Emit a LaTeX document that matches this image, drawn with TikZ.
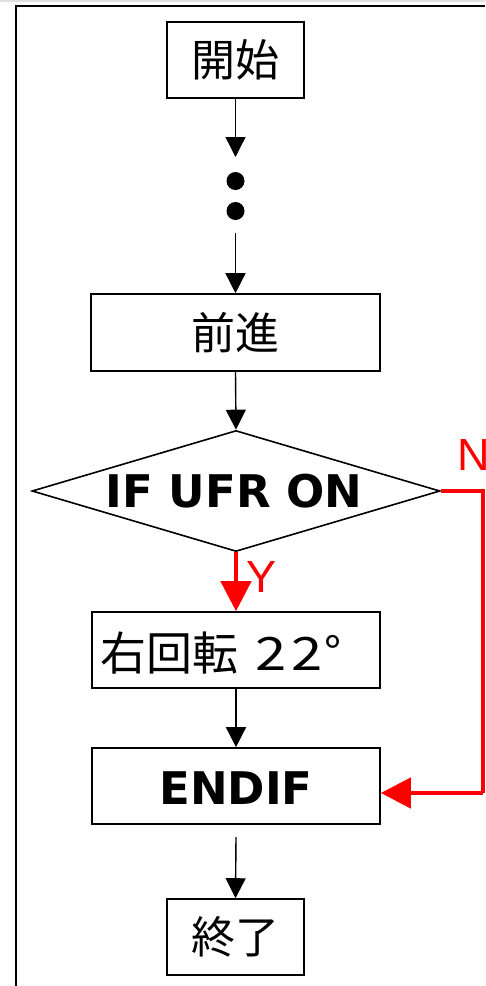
\documentclass[tikz,border=0pt]{standalone}
\usepackage{fontspec}
\usepackage{graphicx}
\usetikzlibrary{arrows.meta,shapes.geometric}
\newfontfamily\cjk{Noto Sans CJK JP}
\newfontfamily\dejav{DejaVu Sans}
\newfontfamily\labfont{Liberation Sans}
\begin{document}
\begin{tikzpicture}[x=1pt,y=-1pt,
  box/.style={draw=black,line width=1.6pt,inner sep=0pt,
    font=\cjk\fontsize{44}{48}\selectfont},
  bigbold/.style={font=\dejav\bfseries\fontsize{45}{50}\selectfont},
  arr/.style={line width=1.4pt,-{Triangle[width=20pt,length=20pt]}},
  redarr/.style={red,line width=4.5pt,-{Triangle[width=30pt,length=30pt]}},
  redline/.style={red,line width=4.5pt},
  lab/.style={red,font=\labfont\fontsize{45}{50}\selectfont,inner sep=0pt,anchor=base west},
  dotnode/.style={circle,fill=black,inner sep=0pt,minimum size=18pt}]
\useasboundingbox (0,0) rectangle (485,986);
% frame
\fill[black!12] (0,0) rectangle (485,1.5);
\draw[line width=2pt] (16,986) -- (16,6) -- (485,6);
% nodes
\node[box,minimum width=137pt,minimum height=76pt] (start) at (235.5,60) {開始};
\coordinate (a1) at (235.5,157);
\node[dotnode] (dot1) at (235.5,181) {};
\node[dotnode] (dot2) at (235.5,211) {};
\coordinate (a2) at (235.5,233);
\node[box,minimum width=289pt,minimum height=77pt] (fwd) at (235.5,332.5) {前進};
\node[draw=black,line width=1.6pt,diamond,inner sep=0pt,minimum width=408pt,minimum height=121pt] (dec) at (236,491) {};
\node[bigbold,inner sep=0pt] (dectxt) at (234,491) {IF UFR ON};
\node[box,minimum width=288pt,minimum height=76pt] (rot) at (236,650) {};
\node[anchor=base west,inner sep=0pt,font=\cjk\fontsize{46}{50}\selectfont] (rottxt) at (100,670) {右回転\hspace{0.38em}\scalebox{1.22}[1]{2}\hspace{0.1em}\scalebox{1.22}[1]{2}\hspace{0.05em}°};
\node[box,minimum width=288pt,minimum height=76pt] (endif) at (236,786) {};
\node[bigbold,inner sep=0pt] (endiftxt) at (236,788) {ENDIF};
\node[box,minimum width=137pt,minimum height=76pt] (end) at (235.5,937) {終了};
% connectors
\draw[arr] (start.south) -- (a1);
\draw[arr] (a2) -- (fwd.north);
\draw[arr] (fwd.south) -- (dec.north);
\draw[arr] (rot.south) -- (endif.north);
\draw[arr] (endif.south |- 0,837) coordinate (a3) -- (end.north);
\draw[redarr] (dec.south) -- (rot.north);
\coordinate (ncorner) at (483,491);
\coordinate (scorner) at (483,793);
\draw[redline] (dec.east) -- (ncorner) -- (scorner);
\draw[redarr] (scorner) -- ([yshift=-7pt]endif.east);
% labels
\node[lab] (ylab) at (246,592) {Y};
\node[lab] (nlab) at (457,470) {N};
\end{tikzpicture}
\end{document}
